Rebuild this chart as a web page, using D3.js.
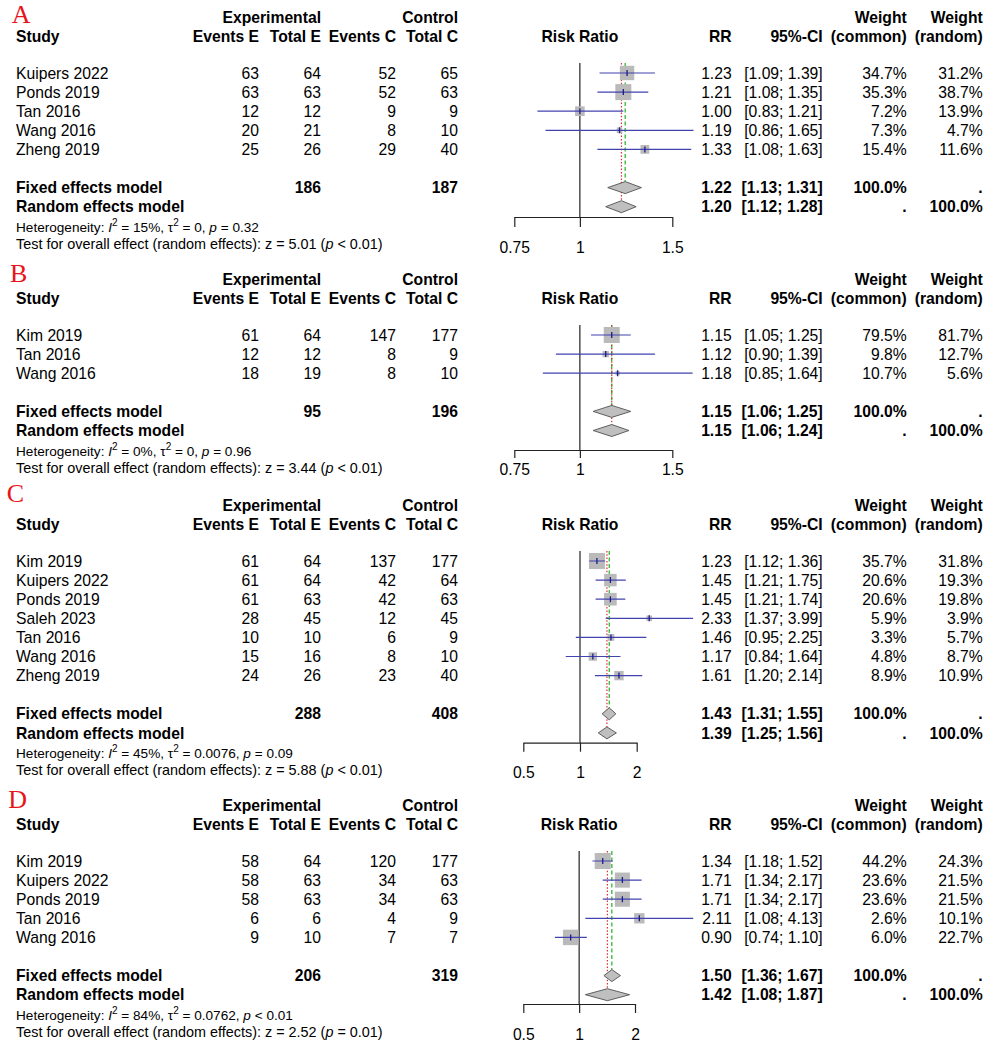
<!DOCTYPE html>
<html><head><meta charset="utf-8">
<script src="https://cdn.jsdelivr.net/npm/d3@7"></script>
<style>
body{margin:0;background:#fff}
svg{display:block}
text{font-family:"Liberation Sans",Arial,sans-serif;fill:#000}
</style>
</head><body>
<svg id="chart" width="1000" height="1047"></svg>
<script>
// ---------- Panel A ----------
const aStudies = ["Kuipers 2022","Ponds 2019","Tan 2016","Wang 2016","Zheng 2019"];
const aEventsE = [63,63,12,20,25];
const aTotalE  = [64,63,12,21,26];
const aEventsC = [52,52,9,8,29];
const aTotalC  = [65,63,9,10,40];
const aRR      = [1.23,1.21,1.00,1.19,1.33];
const aLower   = [1.09,1.08,0.83,0.86,1.08];
const aUpper   = [1.39,1.35,1.21,1.65,1.63];
const aWCommon = [34.7,35.3,7.2,7.3,15.4];
const aWRandom = [31.2,38.7,13.9,4.7,11.6];
const aFixed   = [1.22,1.13,1.31];
const aRandom  = [1.20,1.12,1.28];
const aTotals  = [186,187];
const aHet     = ["15%","0","= 0.32"];
const aTest    = ["5.01","< 0.01"];
const aTicks   = [0.75,1,1.5];

// ---------- Panel B ----------
const bStudies = ["Kim 2019","Tan 2016","Wang 2016"];
const bEventsE = [61,12,18];
const bTotalE  = [64,12,19];
const bEventsC = [147,8,8];
const bTotalC  = [177,9,10];
const bRR      = [1.15,1.12,1.18];
const bLower   = [1.05,0.90,0.85];
const bUpper   = [1.25,1.39,1.64];
const bWCommon = [79.5,9.8,10.7];
const bWRandom = [81.7,12.7,5.6];
const bFixed   = [1.15,1.06,1.25];
const bRandom  = [1.15,1.06,1.24];
const bTotals  = [95,196];
const bHet     = ["0%","0","= 0.96"];
const bTest    = ["3.44","< 0.01"];
const bTicks   = [0.75,1,1.5];

// ---------- Panel C ----------
const cStudies = ["Kim 2019","Kuipers 2022","Ponds 2019","Saleh 2023","Tan 2016","Wang 2016","Zheng 2019"];
const cEventsE = [61,61,61,28,10,15,24];
const cTotalE  = [64,64,63,45,10,16,26];
const cEventsC = [137,42,42,12,6,8,23];
const cTotalC  = [177,64,63,45,9,10,40];
const cRR      = [1.23,1.45,1.45,2.33,1.46,1.17,1.61];
const cLower   = [1.12,1.21,1.21,1.37,0.95,0.84,1.20];
const cUpper   = [1.36,1.75,1.74,3.99,2.25,1.64,2.14];
const cWCommon = [35.7,20.6,20.6,5.9,3.3,4.8,8.9];
const cWRandom = [31.8,19.3,19.8,3.9,5.7,8.7,10.9];
const cFixed   = [1.43,1.31,1.55];
const cRandom  = [1.39,1.25,1.56];
const cTotals  = [288,408];
const cHet     = ["45%","0.0076","= 0.09"];
const cTest    = ["5.88","< 0.01"];
const cTicks   = [0.5,1,2];

// ---------- Panel D ----------
const dStudies = ["Kim 2019","Kuipers 2022","Ponds 2019","Tan 2016","Wang 2016"];
const dEventsE = [58,58,58,6,9];
const dTotalE  = [64,63,63,6,10];
const dEventsC = [120,34,34,4,7];
const dTotalC  = [177,63,63,9,7];
const dRR      = [1.34,1.71,1.71,2.11,0.90];
const dLower   = [1.18,1.34,1.34,1.08,0.74];
const dUpper   = [1.52,2.17,2.17,4.13,1.10];
const dWCommon = [44.2,23.6,23.6,2.6,6.0];
const dWRandom = [24.3,21.5,21.5,10.1,22.7];
const dFixed   = [1.50,1.36,1.67];
const dRandom  = [1.42,1.08,1.87];
const dTotals  = [206,319];
const dHet     = ["84%","0.0762","< 0.01"];
const dTest    = ["2.52","= 0.01"];
const dTicks   = [0.5,1,2];

const panelLabels = ["A","B","C","D"];

function makePanel(label, studies, eE, tE, eC, tC, rr, lo, hi, wc, wr, fixed, random, totals, het, test, ticks){
  return {label, studies, eE, tE, eC, tC, rr, lo, hi, wc, wr, fixed, random, totals, het, test, ticks};
}
const panels = [
  makePanel(panelLabels[0], aStudies,aEventsE,aTotalE,aEventsC,aTotalC,aRR,aLower,aUpper,aWCommon,aWRandom,aFixed,aRandom,aTotals,aHet,aTest,aTicks),
  makePanel(panelLabels[1], bStudies,bEventsE,bTotalE,bEventsC,bTotalC,bRR,bLower,bUpper,bWCommon,bWRandom,bFixed,bRandom,bTotals,bHet,bTest,bTicks),
  makePanel(panelLabels[2], cStudies,cEventsE,cTotalE,cEventsC,cTotalC,cRR,cLower,cUpper,cWCommon,cWRandom,cFixed,cRandom,cTotals,cHet,cTest,cTicks),
  makePanel(panelLabels[3], dStudies,dEventsE,dTotalE,dEventsC,dTotalC,dRR,dLower,dUpper,dWCommon,dWRandom,dFixed,dRandom,dTotals,dHet,dTest,dTicks)
];

// ---------- layout (positions only) ----------
const layouts = [
  {oy:0,   lx:11.7, ly:22.7, xr:[514.3,672.3], axisY:217,   tick:10, labY:253},
  {oy:262, lx:10,   ly:19.7, xr:[514.3,672.3], axisY:188,   tick:8,  labY:213},
  {oy:488, lx:6.7,  ly:13.7, xr:[523.3,636.7], axisY:254.7, tick:9,  labY:290},
  {oy:788, lx:8.3,  ly:20.3, xr:[523.3,635],   axisY:216,   tick:9,  labY:252}
];
const FS = 15.7, FSH = 13.6, FST = 14.4;
const col = {study:16, eE:259, tE:321, eC:396, tC:458, rr:731.7, ci:822.7, wc:906.7, wr:982.7};
const firstRow = 73, step = 19.1, clipRight = 693.5;
const ciColor = "#4343b0", tickColor = "#1c1c8c", sqColor = "#bababa", diaFill = "#bfbfbf", diaStroke = "#505050";

const svg = d3.select("#chart");
svg.append("defs").append("clipPath").attr("id","clipci")
  .append("rect").attr("x",0).attr("y",0).attr("width",clipRight).attr("height",1047);

function txt(g, x, y, s, opt={}){
  return g.append("text").attr("x",x).attr("y",y)
    .attr("text-anchor", opt.anchor || "start")
    .style("font-size", (opt.size||FS)+"px")
    .style("font-weight", opt.bold ? "bold" : "normal")
    .text(s);
}
const f2 = v => v.toFixed(2);
const f1 = v => v.toFixed(1) + "%";

panels.forEach((p, pi) => {
  const L = layouts[pi];
  const g = svg.append("g").attr("transform", `translate(0,${L.oy})`);
  const x = d3.scaleLog().domain([p.ticks[0], p.ticks[p.ticks.length-1]]).range(L.xr);
  const n = p.studies.length;
  const rowY = i => firstRow + i*step;
  const yFixed = rowY(n+1), yRandom = rowY(n+2);
  const base = 5.6;

  // panel letter
  g.append("text").attr("x",L.lx).attr("y",L.ly)
    .style("font-family","'Liberation Serif','Times New Roman',serif")
    .style("font-size","26px").style("fill","#e8141c").text(p.label);

  // headers
  txt(g, col.tE, 22.5, "Experimental", {anchor:"end", bold:true});
  txt(g, col.tC, 22.5, "Control", {anchor:"end", bold:true});
  txt(g, col.wc, 22.5, "Weight", {anchor:"end", bold:true});
  txt(g, col.wr, 22.5, "Weight", {anchor:"end", bold:true});
  txt(g, col.study, 42, "Study", {bold:true});
  txt(g, col.eE, 42, "Events E", {anchor:"end", bold:true});
  txt(g, col.tE, 42, "Total E", {anchor:"end", bold:true});
  txt(g, col.eC, 42, "Events C", {anchor:"end", bold:true});
  txt(g, col.tC, 42, "Total C", {anchor:"end", bold:true});
  txt(g, x(1), 42, "Risk Ratio", {anchor:"middle", bold:true});
  txt(g, col.rr, 42, "RR", {anchor:"end", bold:true});
  txt(g, col.ci, 42, "95%-CI", {anchor:"end", bold:true});
  txt(g, col.wc, 42, "(common)", {anchor:"end", bold:true});
  txt(g, col.wr, 42, "(random)", {anchor:"end", bold:true});

  // study rows text
  p.studies.forEach((s, i) => {
    const y = rowY(i) + base;
    txt(g, col.study, y, s);
    txt(g, col.eE, y, p.eE[i], {anchor:"end"});
    txt(g, col.tE, y, p.tE[i], {anchor:"end"});
    txt(g, col.eC, y, p.eC[i], {anchor:"end"});
    txt(g, col.tC, y, p.tC[i], {anchor:"end"});
    txt(g, col.rr, y, f2(p.rr[i]), {anchor:"end"});
    txt(g, col.ci, y, `[${f2(p.lo[i])}; ${f2(p.hi[i])}]`, {anchor:"end"});
    txt(g, col.wc, y, f1(p.wc[i]), {anchor:"end"});
    txt(g, col.wr, y, f1(p.wr[i]), {anchor:"end"});
  });

  // summary rows text
  txt(g, col.study, yFixed + base, "Fixed effects model", {bold:true});
  txt(g, col.tE, yFixed + base, p.totals[0], {anchor:"end", bold:true});
  txt(g, col.tC, yFixed + base, p.totals[1], {anchor:"end", bold:true});
  txt(g, col.rr, yFixed + base, f2(p.fixed[0]), {anchor:"end", bold:true});
  txt(g, col.ci, yFixed + base, `[${f2(p.fixed[1])}; ${f2(p.fixed[2])}]`, {anchor:"end", bold:true});
  txt(g, col.wc, yFixed + base, "100.0%", {anchor:"end", bold:true});
  txt(g, col.wr, yFixed + base, ".", {anchor:"end", bold:true});
  txt(g, col.study, yRandom + base, "Random effects model", {bold:true});
  txt(g, col.rr, yRandom + base, f2(p.random[0]), {anchor:"end", bold:true});
  txt(g, col.ci, yRandom + base, `[${f2(p.random[1])}; ${f2(p.random[2])}]`, {anchor:"end", bold:true});
  txt(g, col.wc, yRandom + base, ".", {anchor:"end", bold:true});
  txt(g, col.wr, yRandom + base, "100.0%", {anchor:"end", bold:true});

  // heterogeneity
  const h = g.append("text").attr("x", col.study).attr("y", yRandom + 25.5).style("font-size", FSH+"px");
  h.append("tspan").text("Heterogeneity: ");
  h.append("tspan").style("font-style","italic").text("I");
  h.append("tspan").attr("dy",-6).style("font-size","10px").text("2");
  h.append("tspan").attr("dy",6).text(` = ${p.het[0]}, \u03c4`);
  h.append("tspan").attr("dy",-6).style("font-size","10px").text("2");
  h.append("tspan").attr("dy",6).text(` = ${p.het[1]}, `);
  h.append("tspan").style("font-style","italic").text("p");
  h.append("tspan").text(` ${p.het[2]}`);

  const t = g.append("text").attr("x", col.study).attr("y", yRandom + 42.5).style("font-size", FST+"px");
  t.append("tspan").text(`Test for overall effect (random effects): z = ${p.test[0]} (`);
  t.append("tspan").style("font-style","italic").text("p");
  t.append("tspan").text(` ${p.test[1]})`);

  // reference line at 1
  g.append("line").attr("x1",x(1)).attr("x2",x(1)).attr("y1",63).attr("y2",L.axisY)
    .attr("stroke","#222").attr("stroke-width",1.2);

  // summary vertical lines
  g.append("line").attr("x1",x(p.fixed[0])).attr("x2",x(p.fixed[0]))
    .attr("y1",63).attr("y2",yFixed-6)
    .attr("stroke","#33b833").attr("stroke-width",1.3).attr("stroke-dasharray","4,2.5");
  g.append("line").attr("x1",x(p.random[0])).attr("x2",x(p.random[0]))
    .attr("y1",63).attr("y2",yRandom-6)
    .attr("stroke","#e03030").attr("stroke-width",1.2).attr("stroke-dasharray","1.5,1.8");

  // squares
  const maxW = d3.max(p.wr);
  const side = w => 16*Math.sqrt(w/maxW);
  p.studies.forEach((s, i) => {
    const sd = side(p.wr[i]);
    g.append("rect").attr("x", x(p.rr[i]) - sd/2).attr("y", rowY(i) - sd/2)
      .attr("width", sd).attr("height", sd).attr("fill", sqColor);
  });
  // CI lines
  const ci = g.append("g").attr("clip-path","url(#clipci)");
  p.studies.forEach((s, i) => {
    ci.append("line").attr("x1", x(p.lo[i])).attr("x2", x(p.hi[i]))
      .attr("y1", rowY(i)).attr("y2", rowY(i)).attr("stroke", ciColor).attr("stroke-width",1.2);
    ci.append("line").attr("x1", x(p.rr[i])).attr("x2", x(p.rr[i]))
      .attr("y1", rowY(i)-3).attr("y2", rowY(i)+3).attr("stroke", tickColor).attr("stroke-width",1.3);
  });

  // diamonds
  const diamond = (v, yc) => {
    const pts = [[x(v[1]),yc],[x(v[0]),yc-6],[x(v[2]),yc],[x(v[0]),yc+6]];
    g.append("polygon").attr("points", pts.map(d=>d.join(",")).join(" "))
      .attr("fill", diaFill).attr("stroke", diaStroke).attr("stroke-width",0.9);
  };
  diamond(p.fixed, yFixed);
  diamond(p.random, yRandom);

  // axis
  const ax = d3.axisBottom(x).tickValues(p.ticks).tickFormat(d3.format("")).tickSize(L.tick).tickSizeOuter(0);
  const axG = g.append("g").attr("transform", `translate(0,${L.axisY})`).call(ax);
  axG.select(".domain").attr("stroke","#222").attr("stroke-width",1.2);
  axG.selectAll(".tick line").attr("stroke","#222").attr("stroke-width",1.2);
  axG.selectAll(".tick text").attr("y", L.labY - L.axisY).attr("dy",0)
    .style("font-size", FS+"px").style("font-family","'Liberation Sans',Arial,sans-serif").attr("fill","#000");
});
</script>
</body></html>
